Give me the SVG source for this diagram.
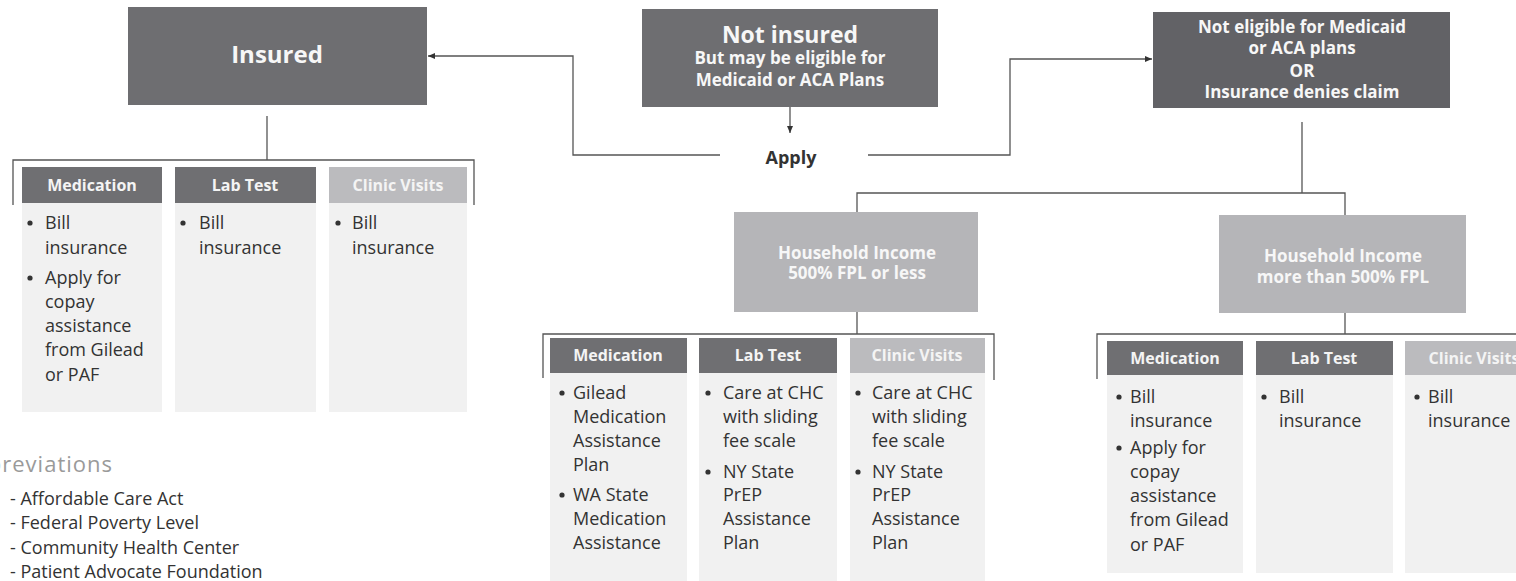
<svg xmlns="http://www.w3.org/2000/svg" width="1516" height="581" viewBox="0 0 1516 581">
<defs>
<marker id="ah" markerWidth="8" markerHeight="8" refX="7" refY="4" orient="auto" markerUnits="userSpaceOnUse">
<path d="M0,1 L7,4 L0,7 Z" fill="#333"/>
</marker>
<style>
.dark{fill:#6e6e71}
.darker{fill:#626266}
.light{fill:#b5b5b8}
.hdark{fill:#6f6f72}
.hlight{fill:#bbbbbe}
.body{fill:#f1f1f1}
.ttl{font-family:"Open Sans","Liberation Sans",sans-serif;font-weight:bold;fill:#f7f7f7;text-anchor:middle}
.hd{font-family:"Open Sans","Liberation Sans",sans-serif;font-weight:bold;font-size:16px;fill:#f4f4f4;text-anchor:middle}
.bt{font-family:"Open Sans","Liberation Sans",sans-serif;font-size:18px;fill:#333}
.ln{fill:none;stroke:#555;stroke-width:1.3}
.ab{font-family:"Open Sans","Liberation Sans",sans-serif;font-size:18px;fill:#333}
</style>
</defs>
<rect width="1516" height="581" fill="#ffffff"/>

<g id="connectors">
<line class="ln" x1="790" y1="107" x2="790" y2="133" marker-end="url(#ah)"/>
<polyline class="ln" points="720,155 573,155 573,56 428,56" marker-end="url(#ah)"/>
<polyline class="ln" points="868,155 1010,155 1010,59 1152,59" marker-end="url(#ah)"/>
<line class="ln" x1="267" y1="116" x2="267" y2="160"/>
<polyline class="ln" points="13,205 13,160 474,160 474,205"/>
<line class="ln" x1="1302" y1="122" x2="1302" y2="193"/>
<polyline class="ln" points="857,212 857,193 1345,193 1345,215"/>
<line class="ln" x1="857" y1="312" x2="857" y2="334"/>
<polyline class="ln" points="543,378 543,334 994,334 994,380"/>
<line class="ln" x1="1345" y1="313" x2="1345" y2="334"/>
<polyline class="ln" points="1097,379 1097,334 1516,334"/>
</g>

<g id="insured">
<rect class="dark" x="128" y="7" width="299" height="98"/>
<text class="ttl" x="277" y="63" font-size="24">Insured</text>
</g>

<g id="not-insured">
<rect class="dark" x="642" y="9" width="296" height="98"/>
<text class="ttl" x="790" y="43" font-size="23">Not insured</text>
<text class="ttl" x="790" y="64" font-size="17">But may be eligible for</text>
<text class="ttl" x="790" y="86" font-size="17">Medicaid or ACA Plans</text>
</g>

<g id="apply">
<text x="791" y="164" font-family="'Open Sans','Liberation Sans',sans-serif" font-weight="bold" font-size="18" fill="#333" text-anchor="middle">Apply</text>
</g>

<g id="not-eligible">
<rect class="darker" x="1153" y="12" width="297" height="96"/>
<text class="ttl" x="1302" y="33" font-size="17">Not eligible for Medicaid</text>
<text class="ttl" x="1302" y="54" font-size="17">or ACA plans</text>
<text class="ttl" x="1302" y="77" font-size="17">OR</text>
<text class="ttl" x="1302" y="98" font-size="17">Insurance denies claim</text>
</g>

<g id="hh-low">
<rect class="light" x="734" y="212" width="244" height="100"/>
<text class="ttl" x="857" y="259" font-size="17">Household Income</text>
<text class="ttl" x="857" y="279" font-size="17">500% FPL or less</text>
</g>

<g id="hh-high">
<rect class="light" x="1219" y="215" width="247" height="98"/>
<text class="ttl" x="1343" y="262" font-size="17">Household Income</text>
<text class="ttl" x="1343" y="283" font-size="17">more than 500% FPL</text>
</g>

<g id="insured-medication">
<rect class="body" x="22" y="203" width="140" height="209"/>
<rect class="hdark" x="22" y="167" width="140" height="36"/>
<text class="hd" x="92" y="191">Medication</text>
<circle cx="30" cy="223" r="2.6" fill="#333"/>
<circle cx="30" cy="278" r="2.6" fill="#333"/>
<text class="bt"><tspan x="45" y="229">Bill</tspan><tspan x="45" y="254">insurance</tspan><tspan x="45" y="284">Apply for</tspan><tspan x="45" y="308">copay</tspan><tspan x="45" y="332">assistance</tspan><tspan x="45" y="356">from Gilead</tspan><tspan x="45" y="381">or PAF</tspan></text>
</g>

<g id="insured-lab">
<rect class="body" x="175" y="203" width="141" height="209"/>
<rect class="hdark" x="175" y="167" width="141" height="36"/>
<text class="hd" x="245" y="191">Lab Test</text>
<circle cx="183" cy="223" r="2.6" fill="#333"/>
<text class="bt"><tspan x="199" y="229">Bill</tspan><tspan x="199" y="254">insurance</tspan></text>
</g>

<g id="insured-clinic">
<rect class="body" x="329" y="203" width="138" height="209"/>
<rect class="hlight" x="329" y="167" width="138" height="36"/>
<text class="hd" x="398" y="191">Clinic Visits</text>
<circle cx="338" cy="223" r="2.6" fill="#333"/>
<text class="bt"><tspan x="352" y="229">Bill</tspan><tspan x="352" y="254">insurance</tspan></text>
</g>

<g id="low-medication">
<rect class="body" x="550" y="373" width="137" height="208"/>
<rect class="hdark" x="550" y="338" width="137" height="35"/>
<text class="hd" x="618" y="361">Medication</text>
<circle cx="562" cy="393" r="2.6" fill="#333"/>
<circle cx="562" cy="495" r="2.6" fill="#333"/>
<text class="bt"><tspan x="573" y="399">Gilead</tspan><tspan x="573" y="423">Medication</tspan><tspan x="573" y="447">Assistance</tspan><tspan x="573" y="471">Plan</tspan><tspan x="573" y="501">WA State</tspan><tspan x="573" y="525">Medication</tspan><tspan x="573" y="549">Assistance</tspan></text>
</g>

<g id="low-lab">
<rect class="body" x="699" y="373" width="138" height="208"/>
<rect class="hdark" x="699" y="338" width="138" height="35"/>
<text class="hd" x="768" y="361">Lab Test</text>
<circle cx="708" cy="393" r="2.6" fill="#333"/>
<circle cx="708" cy="472" r="2.6" fill="#333"/>
<text class="bt"><tspan x="723" y="399">Care at CHC</tspan><tspan x="723" y="423">with sliding</tspan><tspan x="723" y="447">fee scale</tspan><tspan x="723" y="478">NY State</tspan><tspan x="723" y="501">PrEP</tspan><tspan x="723" y="525">Assistance</tspan><tspan x="723" y="549">Plan</tspan></text>
</g>

<g id="low-clinic">
<rect class="body" x="850" y="373" width="135" height="208"/>
<rect class="hlight" x="850" y="338" width="135" height="35"/>
<text class="hd" x="917" y="361">Clinic Visits</text>
<circle cx="858" cy="393" r="2.6" fill="#333"/>
<circle cx="858" cy="472" r="2.6" fill="#333"/>
<text class="bt"><tspan x="872" y="399">Care at CHC</tspan><tspan x="872" y="423">with sliding</tspan><tspan x="872" y="447">fee scale</tspan><tspan x="872" y="478">NY State</tspan><tspan x="872" y="501">PrEP</tspan><tspan x="872" y="525">Assistance</tspan><tspan x="872" y="549">Plan</tspan></text>
</g>

<g id="high-medication">
<rect class="body" x="1107" y="375" width="136" height="198"/>
<rect class="hdark" x="1107" y="341" width="136" height="34"/>
<text class="hd" x="1175" y="364">Medication</text>
<circle cx="1119" cy="397" r="2.6" fill="#333"/>
<circle cx="1119" cy="448" r="2.6" fill="#333"/>
<text class="bt"><tspan x="1130" y="403">Bill</tspan><tspan x="1130" y="427">insurance</tspan><tspan x="1130" y="454">Apply for</tspan><tspan x="1130" y="478">copay</tspan><tspan x="1130" y="502">assistance</tspan><tspan x="1130" y="526">from Gilead</tspan><tspan x="1130" y="551">or PAF</tspan></text>
</g>

<g id="high-lab">
<rect class="body" x="1256" y="375" width="137" height="198"/>
<rect class="hdark" x="1256" y="341" width="137" height="34"/>
<text class="hd" x="1324" y="364">Lab Test</text>
<circle cx="1264" cy="397" r="2.6" fill="#333"/>
<text class="bt"><tspan x="1279" y="403">Bill</tspan><tspan x="1279" y="427">insurance</tspan></text>
</g>

<g id="high-clinic">
<rect class="body" x="1405" y="375" width="140" height="198"/>
<rect class="hlight" x="1405" y="341" width="140" height="34"/>
<text class="hd" x="1474" y="364">Clinic Visits</text>
<circle cx="1417" cy="397" r="2.6" fill="#333"/>
<text class="bt"><tspan x="1428" y="403">Bill</tspan><tspan x="1428" y="427">insurance</tspan></text>
</g>

<g id="abbreviations">
<text x="113" y="472" font-family="'Open Sans','Liberation Sans',sans-serif" font-size="22" letter-spacing="1" fill="#9a9a9a" text-anchor="end">Abbreviations</text>
<text class="ab"><tspan x="10" y="505">-  Affordable Care Act</tspan><tspan x="10" y="529">-  Federal Poverty Level</tspan><tspan x="10" y="554">-  Community Health Center</tspan><tspan x="10" y="578">-  Patient Advocate Foundation</tspan></text>
</g>
</svg>
